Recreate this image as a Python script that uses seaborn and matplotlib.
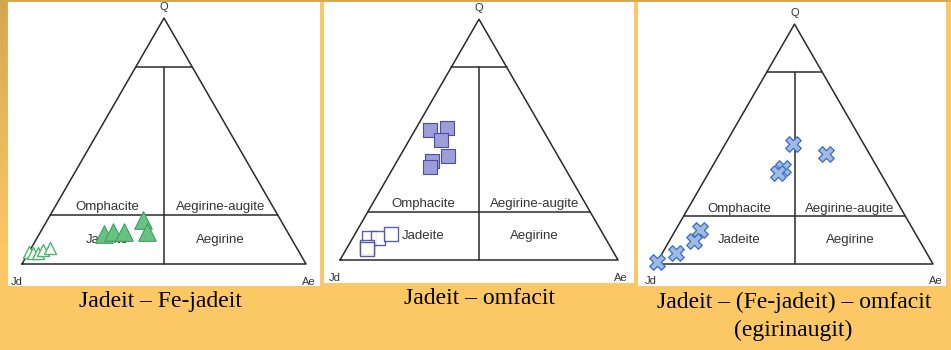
import numpy as np
import pandas as pd
import matplotlib
matplotlib.use("Agg")
import matplotlib.pyplot as plt
import seaborn as sns

sns.set_style("white")
plt.rcParams["font.family"] = ["Liberation Sans", "DejaVu Sans"]

# ternary data: Q fraction and Ae fraction (Jd = 1 - Q - Ae)
jd_fe_solid_q = [0.12, 0.13, 0.13, 0.18, 0.13]
jd_fe_solid_ae = [0.23, 0.255, 0.295, 0.335, 0.375]
jd_fe_open_q = [0.05, 0.045, 0.045, 0.057, 0.066]
jd_fe_open_ae = [0.0, 0.016, 0.034, 0.045, 0.066]

jd_om_solid_q = [0.54, 0.55, 0.50, 0.41, 0.43, 0.385]
jd_om_solid_ae = [0.055, 0.11, 0.115, 0.125, 0.175, 0.13]
jd_om_open_q = [0.09, 0.09, 0.11, 0.055, 0.045]
jd_om_open_ae = [0.06, 0.09, 0.13, 0.07, 0.075]

jd_eg_q = [0.50, 0.46, 0.40, 0.38, 0.14, 0.095, 0.045, 0.01]
jd_eg_ae = [0.245, 0.385, 0.26, 0.25, 0.09, 0.09, 0.05, 0.0]

captions = ["Jadeit – Fe-jadeit", "Jadeit – omfacit",
            "Jadeit – (Fe-jadeit) – omfacit", "(egirinaugit)"]
fields = ["Omphacite", "Aegirine-augite", "Jadeite", "Aegirine"]

H = np.sqrt(3) / 2
W, HT = 951, 350


def to_xy(q, ae):
    q = np.asarray(q)
    ae = np.asarray(ae)
    return pd.DataFrame({"x": ae + q / 2, "y": q * H})


def draw_frame(ax):
    lc = "#2a2a2a"
    ax.plot([0, 1, 0.5, 0], [0, 0, H, 0], color=lc, lw=1.1)
    ax.plot([0.4, 0.6], [0.8 * H, 0.8 * H], color=lc, lw=1.1)
    ax.plot([0.1, 0.9], [0.2 * H, 0.2 * H], color=lc, lw=1.1)
    ax.plot([0.5, 0.5], [0, 0.8 * H], color=lc, lw=1.1)
    tc = "#333333"
    ax.text(0.5, 0.905, "Q", ha="center", va="center", fontsize=8, color=tc)
    ax.text(-0.02, -0.063, "Jd", ha="center", va="center", fontsize=8, color=tc)
    ax.text(1.01, -0.063, "Ae", ha="center", va="center", fontsize=8, color=tc)
    ax.text(0.30, 0.20, fields[0], ha="center", va="center", fontsize=9.5, color=tc)
    ax.text(0.70, 0.20, fields[1], ha="center", va="center", fontsize=9.5, color=tc)
    ax.text(0.30, 0.085, fields[2], ha="center", va="center", fontsize=9.5, color=tc)
    ax.text(0.70, 0.085, fields[3], ha="center", va="center", fontsize=9.5, color=tc)


def panel(fig, left, right, top, bottom, jd_x, base_y, w):
    ax = fig.add_axes([left / W, 1 - bottom / HT, (right - left) / W, (bottom - top) / HT])
    ax.set_facecolor("white")
    ax.set_xlim((left - jd_x) / w, (right - jd_x) / w)
    ax.set_ylim((base_y - bottom) / w, (base_y - top) / w)
    ax.set_axis_off()
    ax.add_patch(plt.Rectangle((0, 0), 1, 1, transform=ax.transAxes,
                               facecolor="white", edgecolor="none", zorder=0))
    draw_frame(ax)
    return ax


fig = plt.figure(figsize=(9.51, 3.5), dpi=100)

# slide background: gold gradient fading into orange
bg = fig.add_axes([0, 0, 1, 1])
grad = np.linspace(0, 1, 256).reshape(-1, 1)
c_top = np.array(matplotlib.colors.to_rgb("#d3a752"))
c_bot = np.array(matplotlib.colors.to_rgb("#fcc865"))
t = np.clip(grad * 1.4, 0, 1)
img = c_top * (1 - t)[..., None] + c_bot * t[..., None]
bg.imshow(img.reshape(256, 1, 3), aspect="auto", extent=[0, 1, 0, 1], origin="upper")
bg.add_patch(plt.Rectangle((8 / W, 0), 1, 1 - 2 / HT, color="#fcc865", zorder=2))
bg.set_axis_off()
bg.set_xlim(0, 1)
bg.set_ylim(0, 1)

ax1 = panel(fig, 8, 320, 2, 286, 22, 264, 284)
sns.scatterplot(data=to_xy(jd_fe_open_q, jd_fe_open_ae), x="x", y="y", ax=ax1,
                marker="^", s=75, color="white", edgecolor="#4fb56e", linewidth=1.0, zorder=5)
sns.scatterplot(data=to_xy(jd_fe_solid_q, jd_fe_solid_ae), x="x", y="y", ax=ax1,
                marker="^", s=160, color="#66c384", edgecolor="#3f9e5c", linewidth=0.8, zorder=5)

ax2 = panel(fig, 324, 634, 2, 283, 340, 260, 278)
sns.scatterplot(data=to_xy(jd_om_open_q, jd_om_open_ae), x="x", y="y", ax=ax2,
                marker="s", s=90, color="white", edgecolor="#4b4ba6", linewidth=1.0,
                alpha=0.9, zorder=5)
sns.scatterplot(data=to_xy(jd_om_solid_q, jd_om_solid_ae), x="x", y="y", ax=ax2,
                marker="s", s=115, color="#9d9dd9", edgecolor="#4d4da3", linewidth=0.8, zorder=5)

ax3 = panel(fig, 638, 946, 2, 286, 656, 264, 277)
sns.scatterplot(data=to_xy(jd_eg_q, jd_eg_ae), x="x", y="y", ax=ax3,
                marker="X", s=125, color="#9dbbe6", edgecolor="#3b6cb6", linewidth=0.9, zorder=5)

for ax in (ax1, ax2, ax3):
    ax.set_xlabel("")
    ax.set_ylabel("")

cap_kw = dict(ha="center", va="center", fontsize=17, family=["Liberation Serif", "DejaVu Serif"],
              color="black")
fig.text(160 / W, 1 - 301 / HT, captions[0], **cap_kw)
fig.text(480 / W, 1 - 299 / HT, captions[1], **cap_kw)
fig.text(794 / W, 1 - 302 / HT, captions[2], **cap_kw)
fig.text(793 / W, 1 - 330 / HT, captions[3], **cap_kw)

fig.savefig("out.png", dpi=100, facecolor="#fcc865")
